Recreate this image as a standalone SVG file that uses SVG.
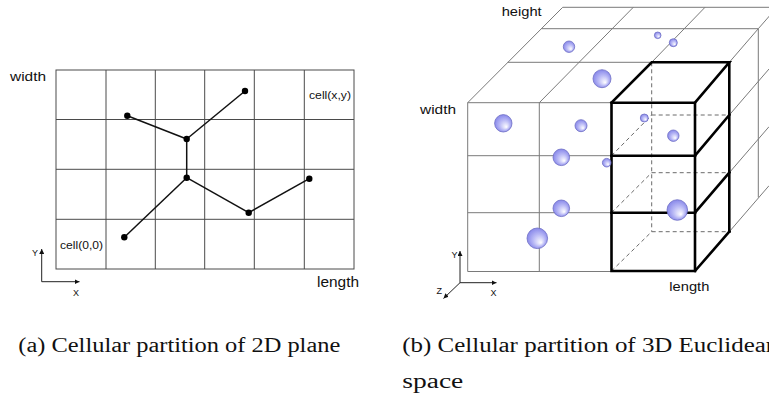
<svg xmlns="http://www.w3.org/2000/svg" width="769" height="395" viewBox="0 0 769 395">
<style>
.bg{fill:#ffffff}
.grid2{stroke:#4a4a4a;stroke-width:1;fill:none}
.edge{stroke:#111;stroke-width:1.5;fill:none}
.node{fill:#000}
.lbl{font-family:"Liberation Sans",Arial,sans-serif;fill:#111}
.ax{stroke:#222;stroke-width:1;fill:none}
.g3{stroke:#7a7a7a;stroke-width:1;fill:none}
.bold{stroke:#000;stroke-width:2.6;fill:none;stroke-linejoin:miter;stroke-linecap:square}
.dash{stroke:#6a6a6a;stroke-width:1;fill:none;stroke-dasharray:4 3}
.sph{fill:url(#sg);stroke:#6e6ec4;stroke-width:0.8}
.cap{font-family:"Liberation Serif","Times New Roman",serif;fill:#111;font-size:20px}
</style>
<defs>
<radialGradient id="sg" cx="50%" cy="50%" r="55%" fx="68%" fy="72%">
<stop offset="0" stop-color="#ffffff"/>
<stop offset="0.5" stop-color="#bcbcf6"/>
<stop offset="1" stop-color="#8080e8"/>
</radialGradient>
<marker id="ah" viewBox="0 0 6 6" markerWidth="5" markerHeight="5" refX="6" refY="3" orient="auto" markerUnits="userSpaceOnUse">
<path d="M0,0 L6,3 L0,6 z" fill="#111"/>
</marker>
</defs>
<rect class="bg" x="0" y="0" width="769" height="395"/>

<!-- Panel (a): 2D cellular partition -->
<g id="panel-a">
<g id="grid2d" class="grid2">
<rect x="56" y="70" width="298" height="199"/>
<path d="M106,70V269M155.3,70V269M204.7,70V269M254.3,70V269M304.3,70V269"/>
<path d="M56,119.5H354M56,169.3H354M56,219.3H354"/>
</g>
<g id="connectors" class="edge">
<path d="M245,91L186.7,139"/>
<path d="M127.3,115.7L186.7,139"/>
<path d="M186.7,139L186.7,177.7"/>
<path d="M186.7,177.7L124.3,237.3"/>
<path d="M186.7,177.7L248.7,212.7"/>
<path d="M248.7,212.7L309.3,178.7"/>
</g>
<g id="n1"><circle class="node" cx="245" cy="91" r="3.2"/></g>
<g id="n2"><circle class="node" cx="127.3" cy="115.7" r="3.2"/></g>
<g id="n3"><circle class="node" cx="186.7" cy="139" r="3.2"/></g>
<g id="n4"><circle class="node" cx="186.7" cy="177.7" r="3.2"/></g>
<g id="n5"><circle class="node" cx="309.3" cy="178.7" r="3.2"/></g>
<g id="n6"><circle class="node" cx="248.7" cy="212.7" r="3.2"/></g>
<g id="n7"><circle class="node" cx="124.3" cy="237.3" r="3.2"/></g>
<text class="lbl" x="10" y="80.5" font-size="12.5" textLength="36" lengthAdjust="spacingAndGlyphs">width</text>
<text class="lbl" x="309" y="99.3" font-size="10.5" textLength="42" lengthAdjust="spacingAndGlyphs">cell(x,y)</text>
<text class="lbl" x="60" y="248.5" font-size="10.5" textLength="43" lengthAdjust="spacingAndGlyphs">cell(0,0)</text>
<text class="lbl" x="317" y="286.5" font-size="14" textLength="42" lengthAdjust="spacingAndGlyphs">length</text>
<g id="axes2d">
<path class="ax" d="M41.7,281.7V249" marker-end="url(#ah)"/>
<path class="ax" d="M41.7,281.7H79.5" marker-end="url(#ah)"/>
<text class="lbl" x="32" y="256" font-size="9">Y</text>
<text class="lbl" x="73" y="296" font-size="9">X</text>
</g>
</g>

<!-- Panel (b): 3D cellular partition -->
<g id="panel-b">
<g id="grid3d" class="g3">
<path d="M467.7,102.7H611M467.7,102.7V271.5H611M539.3,102.7V271.5M467.7,155.7H611M467.7,212.7H611"/>
<path d="M507.7,62.3H651.7M541.6,28.7H758.3M562.7,7.3H769"/>
<path d="M467.7,102.7L562.7,7.3M539.3,102.7L633.3,7.3M651.7,62.3L705,7.3M729.3,62.3L758.3,28.7L777,7.3"/>
<path d="M758.3,28.7V197.4M729.3,115L769,69M729.3,172.7L769,126.7M729.3,231.7L769,185.7"/>
</g>
<g id="hidden-edges" class="dash">
<path d="M651.7,62.3V231.7M651.7,115H729.3M651.7,172.7H729.3M651.7,231.7H729.3"/>
<path d="M611.5,155.7L651.7,115M611.5,212.7L651.7,172.7M611.5,271L651.7,231.7"/>
</g>
<g id="highlight-cell" class="bold">
<path d="M611.5,102.7H695V271H611.5Z"/>
<path d="M611.5,155.7H695M611.5,212.7H695"/>
<path d="M611.5,102.7L651.7,62.3H729.3L695,102.7"/>
<path d="M729.3,62.3V231.7"/>
<path d="M695,155.7L729.3,115M695,212.7L729.3,172.7M695,271L729.3,231.7"/>
</g>
<g id="spheres">
<circle class="sph" cx="569" cy="46.7" r="5.7"/>
<circle class="sph" cx="657.7" cy="35.3" r="3.3"/>
<circle class="sph" cx="673.3" cy="42.7" r="4"/>
<circle class="sph" cx="602" cy="78.7" r="9"/>
<circle class="sph" cx="503.3" cy="123.3" r="8.7"/>
<circle class="sph" cx="581" cy="125.7" r="6"/>
<circle class="sph" cx="644.3" cy="118" r="4"/>
<circle class="sph" cx="673.3" cy="135.7" r="5.7"/>
<circle class="sph" cx="561.3" cy="157.3" r="8.3"/>
<circle class="sph" cx="606.7" cy="162.7" r="4.3"/>
<circle class="sph" cx="561.3" cy="208.3" r="8.3"/>
<circle class="sph" cx="677.3" cy="210" r="10.3"/>
<circle class="sph" cx="537.3" cy="238.3" r="10.3"/>
</g>
<text class="lbl" x="501.7" y="16.3" font-size="12.5" textLength="40" lengthAdjust="spacingAndGlyphs">height</text>
<text class="lbl" x="420" y="114" font-size="12.5" textLength="36" lengthAdjust="spacingAndGlyphs">width</text>
<text class="lbl" x="669.3" y="290.7" font-size="13" textLength="40" lengthAdjust="spacingAndGlyphs">length</text>
<g id="axes3d">
<path class="ax" d="M460,282.7V251" marker-end="url(#ah)"/>
<path class="ax" d="M460,282.7H496.5" marker-end="url(#ah)"/>
<path class="ax" d="M460,282.7L443.5,298.5" marker-end="url(#ah)"/>
<text class="lbl" x="451.5" y="257.7" font-size="9">Y</text>
<text class="lbl" x="490.5" y="296" font-size="9">X</text>
<text class="lbl" x="436.5" y="294.3" font-size="9">Z</text>
</g>
</g>

<text class="cap" x="18.3" y="352" textLength="322" lengthAdjust="spacingAndGlyphs">(a) Cellular partition of 2D plane</text>
<text class="cap" x="402.3" y="352" textLength="376" lengthAdjust="spacingAndGlyphs">(b) Cellular partition of 3D Euclidean</text>
<text class="cap" x="402.3" y="388" textLength="61" lengthAdjust="spacingAndGlyphs">space</text>
</svg>
